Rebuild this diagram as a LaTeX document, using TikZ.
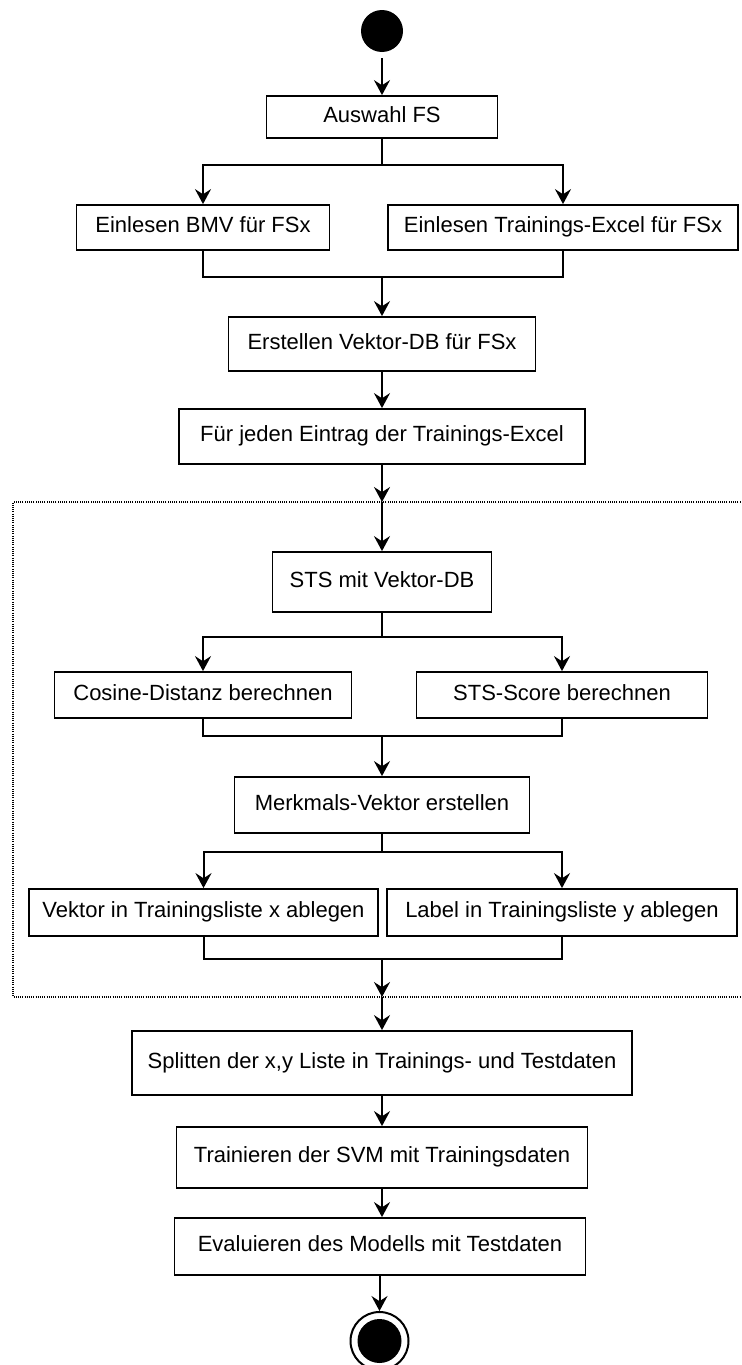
\documentclass[tikz,border=0pt]{standalone}
\usepackage{fontspec}
\setmainfont{Liberation Sans}
\usetikzlibrary{arrows.meta}

\begin{document}
\begin{tikzpicture}[x=0.5pt,y=-0.5pt,
  act/.style={draw, line width=0.9pt, fill=white, inner sep=0pt, anchor=center,
              text height=0.75em, text depth=0.22em,
              font=\fontsize{11}{13}\selectfont},
  flow/.style={line width=1pt},
  arr/.style={flow, -{Stealth[length=7.5pt,width=8pt,inset=2.6pt]}},
  loopframe/.style={line width=0.55pt, dash pattern=on 0.55pt off 0.55pt},
  initial/.style={circle, fill=black, inner sep=0pt, minimum size=21pt},
  final/.style={circle, draw, line width=1pt, fill=white, inner sep=0pt, minimum size=29pt},
  finaldot/.style={circle, fill=black, inner sep=0pt, minimum size=22pt}]

\useasboundingbox (0,0) rectangle (741,1365);

% activity loop region (open on the right)
\draw[loopframe] (745,502) -- (13,502) -- (13,997) -- (745,997);

% nodes
\node[initial] (start) at (382,31) {};
\node[act, minimum width=115.5pt, minimum height=21pt] (auswahl) at (382,117) {Auswahl FS};
\node[act, minimum width=126.5pt, minimum height=22.5pt] (bmv) at (203,227.5) {Einlesen BMV für FSx};
\node[act, minimum width=175pt, minimum height=22.5pt] (trex) at (563,227.5) {Einlesen Trainings-Excel für FSx};
\node[act, minimum width=153.5pt, minimum height=27pt] (vdb) at (382,344) {Erstellen Vektor-DB für FSx};
\node[act, minimum width=203pt, minimum height=27.5pt] (each) at (382,436.5) {Für jeden Eintrag der Trainings-Excel};
\node[act, minimum width=109.5pt, minimum height=30pt] (sts) at (382,582) {STS mit Vektor-DB};
\node[act, minimum width=148.5pt, minimum height=23pt] (cos) at (203,695) {Cosine-Distanz berechnen};
\node[act, minimum width=145.5pt, minimum height=23pt] (score) at (562,695) {STS-Score berechnen};
\node[act, minimum width=147.5pt, minimum height=28pt] (merk) at (382,805) {Merkmals-Vektor erstellen};
\node[act, minimum width=174.5pt, minimum height=23.5pt] (vek) at (203.5,912.5) {Vektor in Trainingsliste x ablegen};
\node[act, minimum width=175pt, minimum height=23.5pt] (lab) at (562,912.5) {Label in Trainingsliste y ablegen};
\node[act, minimum width=250pt, minimum height=32pt] (split) at (382,1063) {Splitten der x,y Liste in Trainings- und Testdaten};
\node[act, minimum width=205.5pt, minimum height=30.5pt] (train) at (382,1157.5) {Trainieren der SVM mit Trainingsdaten};
\node[act, minimum width=205.5pt, minimum height=28.5pt] (eval) at (380,1246.5) {Evaluieren des Modells mit Testdaten};
\node[final] (end) at (379.5,1341) {};
\node[finaldot] (enddot) at (end.center) {};

% fork / join points and loop crossings
\coordinate (f1) at (382,165);
\coordinate (j1) at (382,277);
\coordinate (ltop) at (382,502);
\coordinate (f2) at (382,637);
\coordinate (j2) at (382,736);
\coordinate (f3) at (382,852);
\coordinate (j3) at (382,959);
\coordinate (lbot) at (382,997);

% connectors
\draw[arr, shorten <=3pt] (start) -- (auswahl);
\draw[flow] (auswahl) -- (f1);
\draw[arr] (f1) -| (bmv.north);
\draw[arr] (f1) -| (trex.north);
\draw[flow] (bmv.south) |- (j1) -| (trex.south);
\draw[arr] (j1) -- (vdb);
\draw[arr] (vdb) -- (each);
\draw[arr] (each) -- (ltop);
\draw[arr] (ltop) -- (sts);
\draw[flow] (sts) -- (f2);
\draw[arr] (f2) -| (cos.north);
\draw[arr] (f2) -| (score.north);
\draw[flow] (cos.south) |- (j2) -| (score.south);
\draw[arr] (j2) -- (merk);
\draw[flow] (merk) -- (f3);
\draw[arr] (f3) -| (vek.north);
\draw[arr] (f3) -| (lab.north);
\draw[flow] (vek.south) |- (j3) -| (lab.south);
\draw[arr] (j3) -- (lbot);
\draw[arr] (lbot) -- (split);
\draw[arr] (split) -- (train);
\draw[arr] (train.south) -- (train.south |- eval.north);
\draw[arr] (eval.south -| end) -- (end);

\end{tikzpicture}
\end{document}
